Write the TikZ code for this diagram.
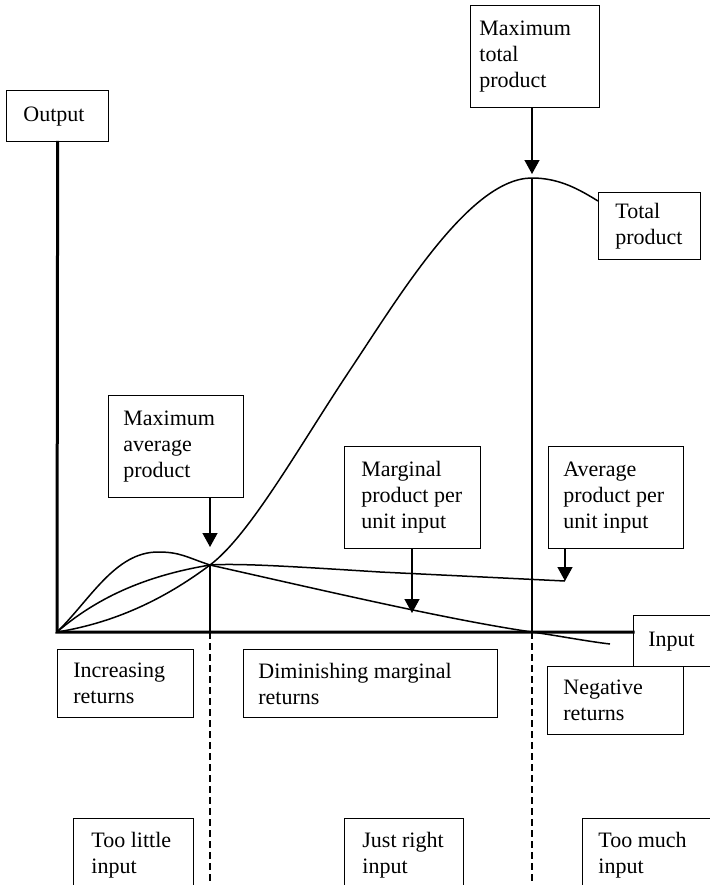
\documentclass[tikz,border=0pt]{standalone}
\usepackage{fontspec}
\setmainfont{Liberation Serif}
\usetikzlibrary{arrows.meta,calc}

% a framed label: name, left, top, width, height, left padding, text
\newcommand\framedlabel[7]{%
  \node[frame, minimum width={#4*0.5pt}, minimum height={#5*0.5pt}] (#1) at (#2,#3) {};
  \node[boxtext, anchor=west] (#1-text) at ([xshift={#6*0.5pt}]#1.west) {#7};}
% a framed label running off the lower edge: text kept at the top
\newcommand\openlabel[7]{%
  \node[frame, minimum width={#4*0.5pt}, minimum height={#5*0.5pt}] (#1) at (#2,#3) {};
  \node[boxtext, anchor=north west] (#1-text) at ([xshift={#6*0.5pt}, yshift={-14*0.5pt}]#1.north west) {#7};}

\tikzset{
  frame/.style={draw, fill=white, line width=0.65pt, anchor=north west, inner sep=0pt},
  boxtext/.style={align=left, inner sep=0pt},
  axis/.style={line width=1.5pt, line cap=rect},
  curve/.style={line width=0.75pt},
  guide/.style={line width=0.65pt},
  guidedash/.style={line width=0.65pt, dash pattern=on 3.5pt off 2pt},
  pointer/.style={line width=0.65pt, -{Triangle[width=7.5pt,length=7pt]}}
}

\begin{document}
\begin{tikzpicture}[x=0.5pt, y=-0.5pt, font=\fontsize{11}{13}\selectfont]
\useasboundingbox (0,0) rectangle (710,885);
\clip (0,0) rectangle (710,885);

% key points of the curves
\coordinate (O) at (57,632);
\coordinate (P) at (210,565);
\coordinate (peak) at (532,178);
\coordinate (peaktip) at (532,174);
\coordinate (avgtip) at (210,547);
\coordinate (xcross) at (532,632);
\coordinate (tpend) at (598,201);
\coordinate (mpend) at (610,644);
\coordinate (apend) at (565,581);
\coordinate (mptip) at (412,613);
\coordinate (Pfoot) at (210,632);
\coordinate (bottomA) at (210,885);
\coordinate (bottomB) at (532,885);

% vertical guides: solid above the input axis, dashed below
\draw[guide] (peak) -- (xcross);
\draw[guide] (P) -- (Pfoot);
\draw[guidedash] (Pfoot) -- (bottomA);
\draw[guidedash] (xcross) -- (bottomB);

% total product
\draw[curve] (O) .. controls (120,622) and (170,595) .. (P)
  .. controls (250,535) and (300,445) .. (350,370)
  .. controls (400,295) and (470,178) .. (peak)
  .. controls (560,178) and (580,190) .. (tpend);
% marginal product
\draw[curve] (O) .. controls (90,600) and (115,552) .. (158,552)
  .. controls (180,552) and (186,557) .. (P)
  .. controls (330,592) and (450,620) .. (xcross)
  .. controls (560,636) and (585,641) .. (mpend);
% average product
\draw[curve] (O) .. controls (100,595) and (150,575) .. (P)
  .. controls (240,563) and (300,567) .. (380,572) -- (apend);

% labels
\framedlabel{out}{6}{90}{102}{51}{17}{Output}
\framedlabel{mtp}{470}{5}{129}{102}{9}{Maximum\\total\\product}
\framedlabel{tp}{598}{192}{102}{67}{17}{Total\\product}
\framedlabel{map}{108}{395}{135}{102}{15}{Maximum\\average\\product}
\framedlabel{mp}{344}{446}{136}{102}{17}{Marginal\\product per\\unit input}
\framedlabel{ap}{548}{446}{135}{102}{15}{Average\\product per\\unit input}
\framedlabel{inp}{633}{615}{85}{51}{15}{Input}
\framedlabel{neg}{547}{666}{136}{68}{16}{Negative\\returns}
\framedlabel{inc}{57}{649}{136}{68}{16}{Increasing\\returns}
\framedlabel{dim}{243}{649}{254}{68}{15}{Diminishing marginal\\returns}
\openlabel{few}{73}{818}{120}{90}{18}{Too little\\input}
\openlabel{ok}{344}{818}{119}{90}{18}{Just right\\input}
\openlabel{many}{582}{818}{140}{90}{16}{Too much\\input}

% axes
\draw[axis] (out.south) -- (O) -- (O -| inp.west);

% pointers
\draw[pointer] (mtp.south -| peak) -- (peaktip);
\draw[pointer] (map.south -| P) -- (avgtip);
\draw[pointer] (mp.south -| mptip) -- (mptip);
\draw[pointer] (ap.south -| apend) -- (apend);
\end{tikzpicture}
\end{document}
